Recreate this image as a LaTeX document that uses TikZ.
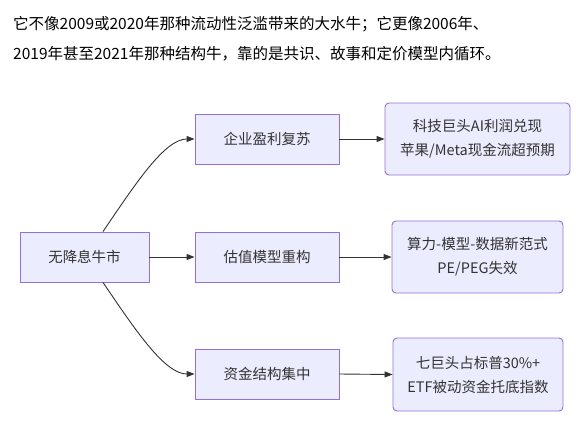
\documentclass[tikz,border=0pt]{standalone}
\usepackage{fontspec}
\usepackage{xcolor}
\usepackage{tikz}
\usetikzlibrary{arrows.meta,positioning,calc}
\newfontfamily\cjk{Noto Sans CJK SC}
\definecolor{boxfill}{RGB}{236, 236, 255}
\definecolor{boxline}{RGB}{147, 112, 219}
\definecolor{linkgray}{RGB}{51, 51, 51}
\tikzset{
  stage/.style={draw=boxline, fill=boxfill, line width=0.9pt, text=linkgray,
    font=\cjk\fontsize{14.5}{24}\selectfont, inner sep=0pt, align=center},
  detail/.style={stage, rounded corners=4pt},
  flow/.style={draw=linkgray, line width=0.9pt, -{Triangle[length=8pt,width=6pt]}}
}

\begin{document}
\begin{tikzpicture}[x=1pt, y=1pt]
    \useasboundingbox (0,0) rectangle (576,-432);
    % heading text
    \node[anchor=north west, inner sep=0pt, align=left,
      font=\cjk\fontsize{15.5}{30}\selectfont] (lead) at (13,-16.5)
      {它不像2009或2020年那种流动性泛滥带来的大水牛；它更像2006年、\\
       2019年甚至2021年那种结构牛，靠的是共识、故事和定价模型内循环。};

    \node[stage, minimum width=129, minimum height=50] (root) at (84.5,-257) {无降息牛市};
    \node[stage, minimum width=144, minimum height=50] (m1) at (267,-139) {企业盈利复苏};
    \node[stage, minimum width=144, minimum height=50] (m2) at (267,-257) {估值模型重构};
    \node[stage, minimum width=144, minimum height=50] (m3) at (267,-374) {资金结构集中};

    \node[detail, minimum width=185, minimum height=72] (d1) at (477.5,-139)
      {科技巨头AI利润兑现\\苹果/Meta现金流超预期};
    \node[detail, minimum width=171, minimum height=72] (d2) at (477.5,-257)
      {算力-模型-数据新范式\\PE/PEG失效};
    \node[detail, minimum width=170, minimum height=73] (d3) at (478,-374.5)
      {七巨头占标普30\%+\\ETF被动资金托底指数};

    \draw[flow] ([xshift=18.5pt]root.north) .. controls +(32,47) and +(-30,0) .. (m1.west);
    \draw[flow] (root.east) -- (m2.west);
    \draw[flow] ([xshift=18.5pt]root.south) .. controls +(32,-47) and +(-30,0) .. (m3.west);

    \draw[flow] (m1.east) -- (d1.west);
    \draw[flow] (m2.east) -- (d2.west);
    \draw[flow] (m3.east) -- (d3.west);
\end{tikzpicture}
\end{document}
